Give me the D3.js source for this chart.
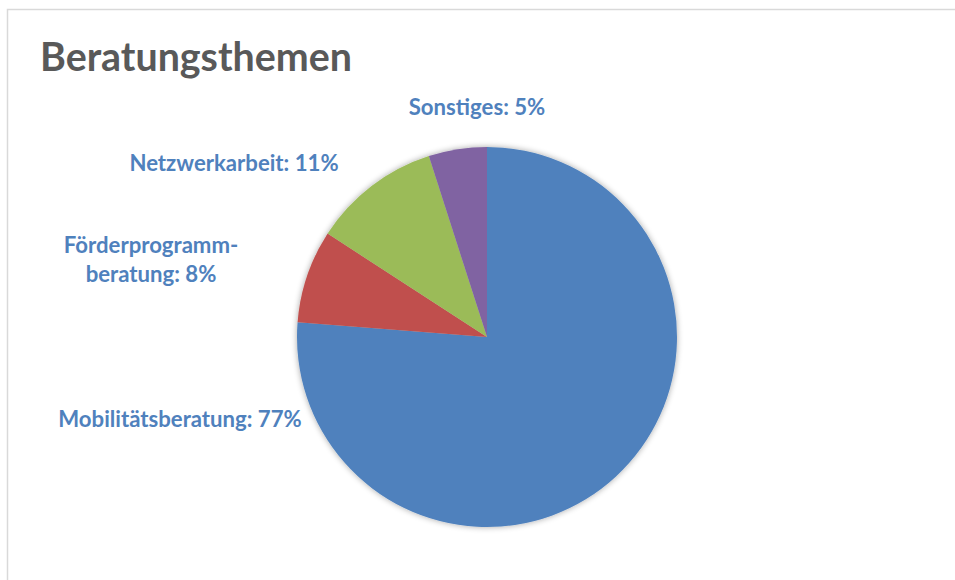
<!DOCTYPE html>
<html>
<head>
<meta charset="utf-8">
<script src="https://cdn.jsdelivr.net/npm/d3@7"></script>
<style>
  html, body { margin: 0; padding: 0; background: #fff; }
  svg { display: block; }
</style>
</head>
<body>
<svg id="chart" width="955" height="580"></svg>
<script>
// Beratungsthemen – Anteile in Prozent
const categories = ["Mobilitätsberatung", "Förderprogrammberatung", "Netzwerkarbeit", "Sonstiges"];
const values = [77, 8, 11, 5];
const colors = ["#4f81bd", "#c0504d", "#9bbb59", "#8064a2"];
// label lines (the long name is hyphenated over two lines)
const labelLines = [
  ["Mobilitätsberatung: 77%"],
  ["Förderprogramm-", "beratung: 8%"],
  ["Netzwerkarbeit: 11%"],
  ["Sonstiges: 5%"]
];
const title = "Beratungsthemen";

const svg = d3.select("#chart");
const W = 955, H = 580;
const font = "Lato, 'Open Sans', sans-serif";

// chart frame
svg.append("rect")
  .attr("x", 7.5).attr("y", 9.5)
  .attr("width", W + 10).attr("height", H + 10)
  .attr("fill", "#fff")
  .attr("stroke", "#d9d9d9").attr("stroke-width", 1.5);

// fit a text element to a target width by adjusting font size
function fitWidth(sel, targetW) {
  const w = sel.node().getComputedTextLength();
  const fs = parseFloat(sel.attr("font-size"));
  sel.attr("font-size", fs * targetW / w);
}

// title
const t = svg.append("text")
  .attr("x", 40).attr("y", 71)
  .attr("font-family", font).attr("font-weight", 700)
  .attr("font-size", 36).attr("fill", "#595959")
  .text(title);
fitWidth(t, 312);

// pie
const cx = 487, cy = 337, R = 190;
const defs = svg.append("defs");
const f = defs.append("filter").attr("id", "glow")
  .attr("x", "-10%").attr("y", "-10%").attr("width", "120%").attr("height", "120%");
f.append("feGaussianBlur").attr("in", "SourceAlpha").attr("stdDeviation", 3).attr("result", "b");
f.append("feComponentTransfer").attr("in", "b").attr("result", "s")
  .append("feFuncA").attr("type", "linear").attr("slope", 0.35);
const m = f.append("feMerge");
m.append("feMergeNode").attr("in", "s");
m.append("feMergeNode").attr("in", "SourceGraphic");

const data = categories.map((c, i) => ({ name: c, value: values[i], color: colors[i], lines: labelLines[i] }));
const pie = d3.pie().value(d => d.value).sort(null).startAngle(0).endAngle(2 * Math.PI);
const arc = d3.arc().innerRadius(0).outerRadius(R);

const g = svg.append("g").attr("transform", `translate(${cx},${cy})`).attr("filter", "url(#glow)");
g.selectAll("path")
  .data(pie(data))
  .join("path")
  .attr("d", arc)
  .attr("fill", d => d.data.color);

// data labels: center x, first baseline, width of first line
const labelPos = [
  { x: 180, y: 427, w: 246 },
  { x: 151, y: 253, w: 177, dy: 29 },
  { x: 234, y: 171, w: 208 },
  { x: 477, y: 115, w: 134 }
];
const labels = data.map((d, i) => {
  const p = labelPos[i];
  const txt = svg.append("text")
    .attr("font-family", font).attr("font-weight", 700)
    .attr("font-size", 20).attr("fill", "#4f81bd")
    .attr("text-anchor", "middle");
  d.lines.forEach((ln, j) => {
    txt.append("tspan").attr("x", p.x).attr("y", p.y + j * (p.dy || 0)).text(ln);
  });
  return txt;
});
// one shared label size, taken from the mean width ratio
const ratio = d3.mean(labels, (txt, i) => labelPos[i].w / txt.select("tspan").node().getComputedTextLength());
labels.forEach(txt => txt.attr("font-size", 20 * ratio));
</script>
</body>
</html>
